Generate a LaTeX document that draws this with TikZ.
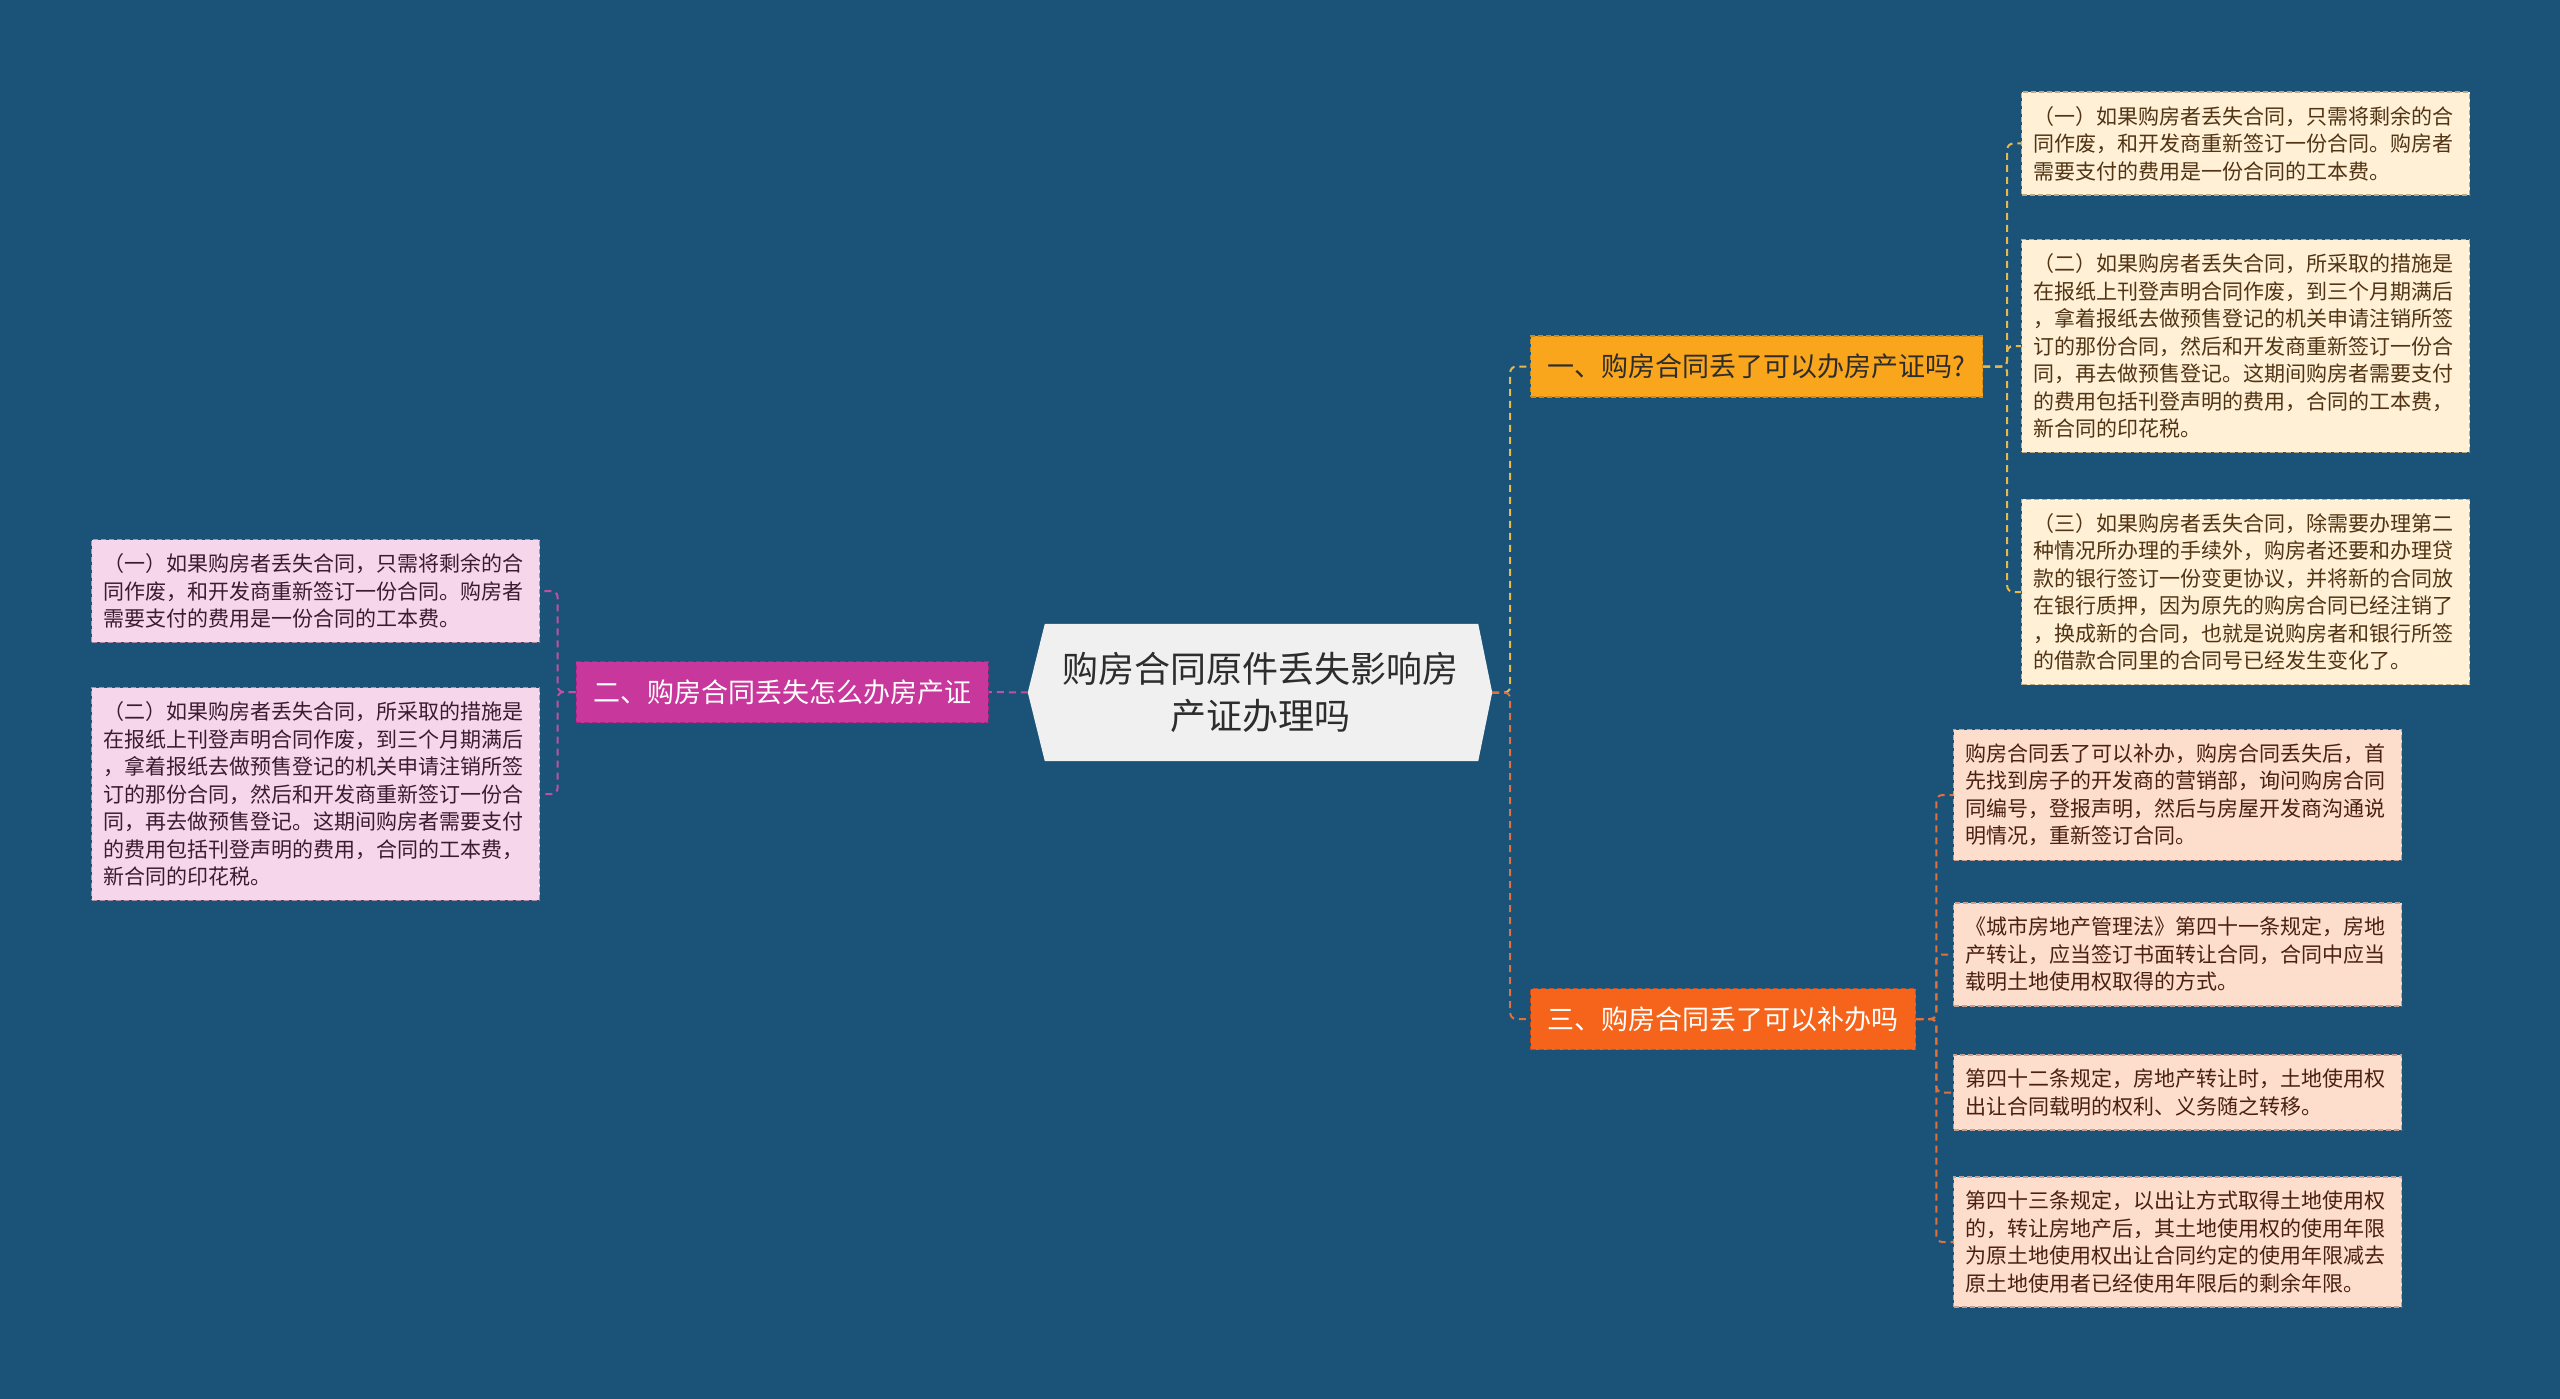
\documentclass[tikz,border=0pt]{standalone}
\usepackage{fontspec}
\setmainfont{Noto Sans CJK SC}
\usetikzlibrary{backgrounds}
\definecolor{bgblue}{RGB}{27,83,120}
\definecolor{cfill}{RGB}{240,240,240}
\definecolor{ctext}{RGB}{45,45,45}
\definecolor{bonefill}{RGB}{250,166,28}
\definecolor{boneline}{RGB}{208,138,20}
\definecolor{btwofill}{RGB}{200,55,155}
\definecolor{btwoline}{RGB}{170,40,130}
\definecolor{bthreefill}{RGB}{245,100,26}
\definecolor{bthreeline}{RGB}{205,75,20}
\definecolor{lonefill}{RGB}{255,240,214}
\definecolor{loneline}{RGB}{190,170,130}
\definecolor{lonetext}{RGB}{80,52,20}
\definecolor{ltwofill}{RGB}{246,214,234}
\definecolor{ltwoline}{RGB}{180,140,165}
\definecolor{ltwotext}{RGB}{58,28,48}
\definecolor{lthreefill}{RGB}{253,221,204}
\definecolor{lthreeline}{RGB}{195,160,145}
\definecolor{lthreetext}{RGB}{74,32,20}
\definecolor{cone}{RGB}{232,184,74}
\definecolor{ctwo}{RGB}{192,80,160}
\definecolor{cthree}{RGB}{226,112,58}
\tikzset{
  dbox/.style={dash pattern=on 5pt off 3pt, line width=1.4pt},
  branchbox/.style={dbox, minimum height=61pt, inner xsep=17pt, inner ysep=0pt,
    font=\fontsize{27}{32}\selectfont},
  leafbox/.style={dbox, align=left, text width=424pt, inner xsep=12pt, inner ysep=14pt,
    font=\fontsize{21}{27.5}\selectfont},
  conn/.style={line width=2pt, dash pattern=on 7pt off 5pt, rounded corners=6pt},
  centerbox/.style={align=center, text=ctext, minimum width=464pt, minimum height=137pt,
    font=\fontsize{36}{47}\selectfont}
}
\begin{document}
\begin{tikzpicture}[x=1pt,y=-1pt]
\useasboundingbox (0,0) rectangle (2560,1399);

% center
\node[centerbox] (c) at (1260,692.5) {购房合同原件丢失影响房\\产证办理吗};

% branches
\node[branchbox, fill=bonefill, draw=boneline, text=ctext, anchor=west] (b1) at (1530,366.5) {一、购房合同丢了可以办房产证吗?};
\node[branchbox, fill=btwofill, draw=btwoline, text=white, anchor=east] (b2) at (989,692) {二、购房合同丢失怎么办房产证};
\node[branchbox, fill=bthreefill, draw=bthreeline, text=white, anchor=west] (b3) at (1530,1019) {三、购房合同丢了可以补办吗};

% leaves of branch 1
\node[leafbox, fill=lonefill, draw=loneline, text=lonetext, anchor=west] (l1a) at (2021,143.5)
 {（一）如果购房者丢失合同，只需将剩余的合\\同作废，和开发商重新签订一份合同。购房者\\需要支付的费用是一份合同的工本费。};
\node[leafbox, fill=lonefill, draw=loneline, text=lonetext, anchor=west] (l1b) at (2021,346)
 {（二）如果购房者丢失合同，所采取的措施是\\在报纸上刊登声明合同作废，到三个月期满后\\，拿着报纸去做预售登记的机关申请注销所签\\订的那份合同，然后和开发商重新签订一份合\\同，再去做预售登记。这期间购房者需要支付\\的费用包括刊登声明的费用，合同的工本费，\\新合同的印花税。};
\node[leafbox, fill=lonefill, draw=loneline, text=lonetext, anchor=west] (l1c) at (2021,592)
 {（三）如果购房者丢失合同，除需要办理第二\\种情况所办理的手续外，购房者还要和办理贷\\款的银行签订一份变更协议，并将新的合同放\\在银行质押，因为原先的购房合同已经注销了\\，换成新的合同，也就是说购房者和银行所签\\的借款合同里的合同号已经发生变化了。};

% leaves of branch 2
\node[leafbox, fill=ltwofill, draw=ltwoline, text=ltwotext, anchor=west] (l2a) at (91,591)
 {（一）如果购房者丢失合同，只需将剩余的合\\同作废，和开发商重新签订一份合同。购房者\\需要支付的费用是一份合同的工本费。};
\node[leafbox, fill=ltwofill, draw=ltwoline, text=ltwotext, anchor=west] (l2b) at (91,794)
 {（二）如果购房者丢失合同，所采取的措施是\\在报纸上刊登声明合同作废，到三个月期满后\\，拿着报纸去做预售登记的机关申请注销所签\\订的那份合同，然后和开发商重新签订一份合\\同，再去做预售登记。这期间购房者需要支付\\的费用包括刊登声明的费用，合同的工本费，\\新合同的印花税。};

% leaves of branch 3
\node[leafbox, fill=lthreefill, draw=lthreeline, text=lthreetext, anchor=west] (l3a) at (1953,795)
 {购房合同丢了可以补办，购房合同丢失后，首\\先找到房子的开发商的营销部，询问购房合同\\同编号，登报声明，然后与房屋开发商沟通说\\明情况，重新签订合同。};
\node[leafbox, fill=lthreefill, draw=lthreeline, text=lthreetext, anchor=west] (l3b) at (1953,954.5)
 {《城市房地产管理法》第四十一条规定，房地\\产转让，应当签订书面转让合同，合同中应当\\载明土地使用权取得的方式。};
\node[leafbox, fill=lthreefill, draw=lthreeline, text=lthreetext, anchor=west] (l3c) at (1953,1092.5)
 {第四十二条规定，房地产转让时，土地使用权\\出让合同载明的权利、义务随之转移。};
\node[leafbox, fill=lthreefill, draw=lthreeline, text=lthreetext, anchor=west] (l3d) at (1953,1242)
 {第四十三条规定，以出让方式取得土地使用权\\的，转让房地产后，其土地使用权的使用年限\\为原土地使用权出让合同约定的使用年限减去\\原土地使用者已经使用年限后的剩余年限。};

% connectors
\draw[conn, cone] (c.east) -- ++(18,0) |- (b1.west);
\draw[conn, cthree] (c.east) -- ++(18,0) |- (b3.west);
\draw[conn, ctwo] (c.west) -- (b2.east);

\foreach \n in {l1a,l1b,l1c} \draw[conn, cone] (b1.east) -- ++(24,0) |- (\n.west);
\foreach \n in {l2a,l2b} \draw[conn, ctwo] (b2.west) -- ++(-18,0) |- (\n.east);
\foreach \n in {l3a,l3b,l3c,l3d} \draw[conn, cthree] (b3.east) -- ++(20,0) |- (\n.west);

\begin{scope}[on background layer]
  \fill[bgblue] (0,0) rectangle (2560,1399);
  \fill[cfill] (c.west) -- ([xshift=17pt]c.north west) -- ([xshift=-14pt]c.north east)
    -- (c.east) -- ([xshift=-14pt]c.south east) -- ([xshift=17pt]c.south west) -- cycle;
\end{scope}
\end{tikzpicture}
\end{document}
